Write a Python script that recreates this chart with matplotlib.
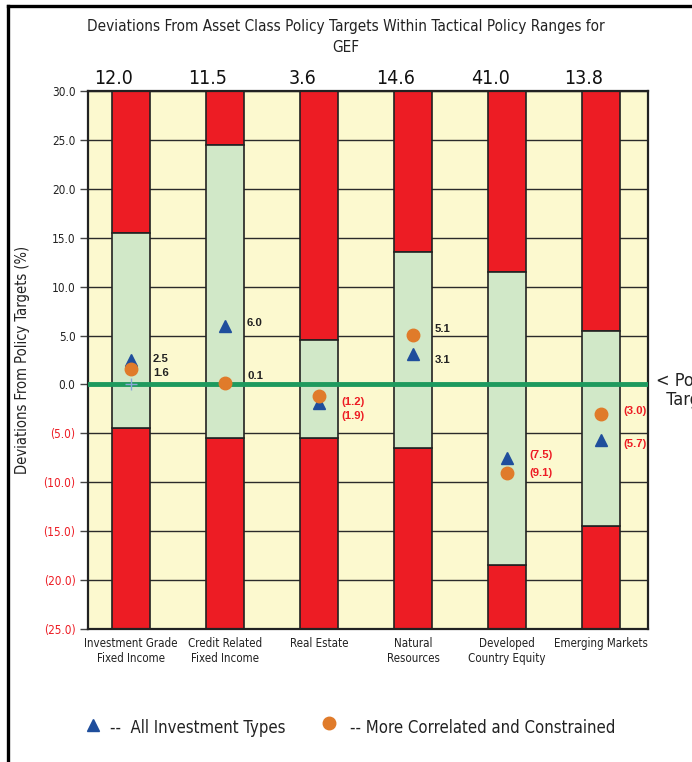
import numpy as np
import matplotlib
matplotlib.use('Agg')
import matplotlib.pyplot as plt
from matplotlib.lines import Line2D

plt.rcParams['font.family'] = ['DejaVu Sans']
plt.rcParams['font.stretch'] = 'condensed'

categories = ['Investment Grade\nFixed Income', 'Credit Related\nFixed Income', 'Real Estate',
              'Natural\nResources', 'Developed\nCountry Equity', 'Emerging Markets']
policy_weights = ['12.0', '11.5', '3.6', '14.6', '41.0', '13.8']
range_low = [-4.5, -5.5, -5.5, -6.5, -18.5, -14.5]
range_high = [15.5, 24.5, 4.5, 13.5, 11.5, 5.5]
all_types = [2.5, 6.0, -1.9, 3.1, -7.5, -5.7]
correlated = [1.6, 0.1, -1.2, 5.1, -9.1, -3.0]
# label nudges in pixels (down is positive) so the two labels don't collide
tri_nudge = [-1.5, -3, 13, 6, -3, 4]
circ_nudge = [4.6, -7, 6, -6, 0, -3]

ymin, ymax = -25, 30
x = np.arange(len(categories))
w = 0.40

cream = '#FCF9CF'
red = '#ED1C24'
green = '#D1E8C8'
line_green = '#1E9A5E'
blue = '#1F4E9C'
orange = '#E07B2A'

fig = plt.figure(figsize=(6.92, 7.62), dpi=100)
ax = fig.add_axes([88/692, 1-629/762, 560/692, 538/762])
ax.set_facecolor(cream)

# gridlines behind the bars
for yv in np.arange(ymin, ymax + 1, 5):
    ax.axhline(yv, color='#2b2b2b', lw=1, zorder=1)

# red bands (outside tactical range) and green tactical range
ax.bar(x, np.array(range_low) - ymin, bottom=ymin, width=w, color=red, edgecolor='#222222', lw=1.2, zorder=2)
ax.bar(x, ymax - np.array(range_high), bottom=range_high, width=w, color=red, edgecolor='#222222', lw=1.2, zorder=2)
ax.bar(x, np.array(range_high) - np.array(range_low), bottom=range_low, width=w, color=green,
       edgecolor='#222222', lw=1.2, zorder=2)

ax.axhline(0, color=line_green, lw=3.5, zorder=3)
ax.plot([0], [0], marker='+', color='#8aa8d8', ms=9, mew=1, zorder=4)

ax.plot(x, all_types, ls='none', marker='^', color=blue, ms=9, zorder=5)
ax.plot(x, correlated, ls='none', marker='o', color=orange, ms=9, zorder=6)

def fmt(v):
    return f'{v:.1f}' if v >= 0 else f'({-v:.1f})'

for i in range(len(categories)):
    for v, nd in ((all_types[i], tri_nudge[i]), (correlated[i], circ_nudge[i])):
        ax.annotate(fmt(v), (x[i] + 0.235, v), xytext=(0, -nd * 0.72), textcoords='offset points',
                    ha='left', va='center', fontsize=8.2, fontweight='bold', fontstretch='normal',
                    family=['Liberation Sans', 'DejaVu Sans'],
                    color='#222222' if v >= 0 else red, zorder=7)
    ax.text(x[i] - 0.18, ymax + 0.3, policy_weights[i], ha='center', va='bottom', fontsize=14, color='#111111')

ax.set_xlim(-0.457, 5.5)
ax.set_ylim(ymin, ymax)
ax.set_xticks(x)
ax.set_xticklabels(categories, fontsize=8.3, color='#222222')
ax.tick_params(axis='x', length=0, pad=6)
yt = np.arange(ymin, ymax + 1, 5)
ax.set_yticks(yt)
ax.set_yticklabels([fmt(v) for v in yt], fontsize=8.5)
for lab, v in zip(ax.get_yticklabels(), yt):
    lab.set_color(red if v < 0 else '#222222')
ax.tick_params(axis='y', length=6, width=1, color='#444444', pad=3)
for s in ax.spines.values():
    s.set_color('#222222')
    s.set_linewidth(1.6)
ax.set_ylabel('Deviations From Policy Targets (%)', fontsize=10.5, color='#222222', labelpad=10)

# note at the right of the policy line (runs off the edge, as in the source)
ax.text(1.015, (0 - ymin) / (ymax - ymin) + 0.024, '< Policy\n  Targets', transform=ax.transAxes,
        ha='left', va='top', fontsize=13, color='#222222', linespacing=1.1, clip_on=False)

fig.text(0.5, 1 - 27/762, 'Deviations From Asset Class Policy Targets Within Tactical Policy Ranges for',
         ha='center', va='center', fontsize=11, color='#222222')
fig.text(0.5, 1 - 47/762, 'GEF', ha='center', va='center', fontsize=11, color='#222222')

# legend row
fig.add_artist(Line2D([93/692], [1 - 725/762], marker='^', color=blue, ms=9, ls='none'))
fig.text(110/692, 1 - 728/762, '--  All Investment Types', ha='left', va='center', fontsize=12, color='#222222')
fig.add_artist(Line2D([329/692], [1 - 723/762], marker='o', color=orange, ms=9, ls='none'))
fig.text(350/692, 1 - 728/762, '-- More Correlated and Constrained', ha='left', va='center', fontsize=12,
         color='#222222')

# outer frame lines
fig.add_artist(Line2D([8/692, 8/692], [0, 1 - 6/762], color='black', lw=2.4))
fig.add_artist(Line2D([8/692, 1], [1 - 6/762, 1 - 6/762], color='black', lw=2.4))

fig.savefig('out.png', dpi=100)
